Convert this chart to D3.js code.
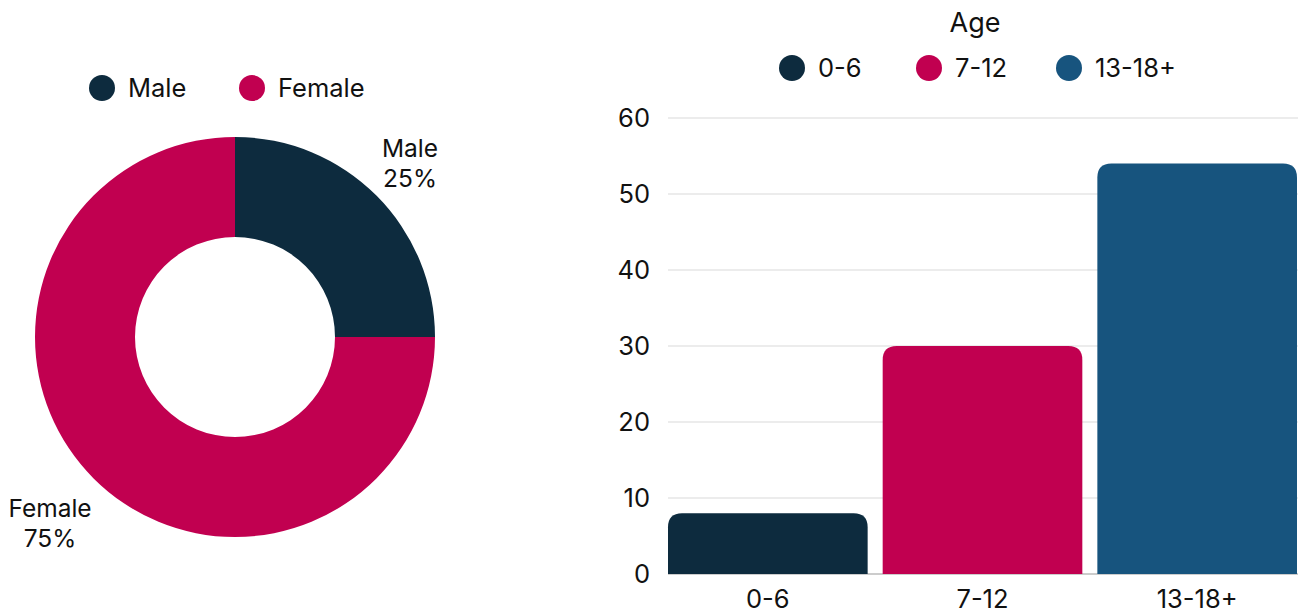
<!DOCTYPE html>
<html><head><meta charset="utf-8">
<script src="https://cdn.jsdelivr.net/npm/d3@7"></script>
<style>body{margin:0;background:#fff}svg{display:block;font-family:Inter,"Noto Sans",sans-serif}</style>
</head><body>
<svg id="c" width="1298" height="613"></svg>
<script>
const genderLabels = ["Male", "Female"];
const genderValues = [25, 75];
const genderColors = ["#0d2b3e", "#c10050"];
const ageCategories = ["0-6", "7-12", "13-18+"];
const ageValues = [8, 30, 54];
const ageColors = ["#0d2b3e", "#c10050", "#17547e"];
const yTicks = [0, 10, 20, 30, 40, 50, 60];

const svg = d3.select("#c");
const FS = 25.5;

// Donut
const cx = 235, cy = 337;
const pie = d3.pie().sort(null).value(d => d)(genderValues);
const arc = d3.arc().innerRadius(100).outerRadius(200);
const g = svg.append("g").attr("transform", `translate(${cx},${cy})`);
g.selectAll("path").data(pie).join("path").attr("d", arc).attr("fill", (d, i) => genderColors[i]);

const labelPos = [[410, 148], [50, 508]];
pie.forEach((d, i) => {
  const t = svg.append("text").attr("text-anchor", "middle").attr("font-size", 24.5).attr("fill", "#111");
  t.append("tspan").attr("x", labelPos[i][0]).attr("y", labelPos[i][1] + 9).text(genderLabels[i]);
  t.append("tspan").attr("x", labelPos[i][0]).attr("y", labelPos[i][1] + 39).text(genderValues[i] + "%");
});

// Donut legend
const lg = [[102, 88], [252, 88]];
genderLabels.forEach((l, i) => {
  svg.append("circle").attr("cx", lg[i][0]).attr("cy", lg[i][1]).attr("r", 13).attr("fill", genderColors[i]);
  svg.append("text").attr("x", lg[i][0] + 26).attr("y", lg[i][1] + 9).attr("font-size", FS).attr("fill", "#111").text(l);
});

// Bar chart
const x = d3.scaleBand().domain(ageCategories).range([668, 1297]).paddingInner(0.07).paddingOuter(0);
const y = d3.scaleLinear().domain([0, 60]).range([574, 118]);

svg.append("g").selectAll("line").data(yTicks).join("line")
  .attr("x1", 668).attr("x2", 1298).attr("y1", d => y(d)).attr("y2", d => y(d))
  .attr("stroke", d => d === 0 ? "#999" : "#d9d9d9").attr("stroke-width", 1);

svg.append("g").selectAll("text").data(yTicks).join("text")
  .attr("x", 650).attr("y", d => y(d) + 9).attr("text-anchor", "end")
  .attr("font-size", FS).attr("fill", "#111").text(d => d);

const r = 14;
function topRounded(x0, y0, w, h) {
  const rr = Math.min(r, h, w / 2);
  return `M${x0},${y0 + h}V${y0 + rr}Q${x0},${y0} ${x0 + rr},${y0}H${x0 + w - rr}Q${x0 + w},${y0} ${x0 + w},${y0 + rr}V${y0 + h}Z`;
}
svg.append("g").selectAll("path").data(ageValues).join("path")
  .attr("d", (d, i) => topRounded(x(ageCategories[i]), y(d), x.bandwidth(), y(0) - y(d)))
  .attr("fill", (d, i) => ageColors[i]);

svg.append("g").selectAll("text").data(ageCategories).join("text")
  .attr("x", d => x(d) + x.bandwidth() / 2).attr("y", 608).attr("text-anchor", "middle")
  .attr("font-size", FS).attr("fill", "#111").text(d => d);

// Title + legend
svg.append("text").attr("x", 975).attr("y", 32).attr("text-anchor", "middle").attr("font-size", 27).attr("fill", "#111").text("Age");
const bl = [792, 929, 1069];
ageCategories.forEach((c, i) => {
  svg.append("circle").attr("cx", bl[i]).attr("cy", 68).attr("r", 13).attr("fill", ageColors[i]);
  svg.append("text").attr("x", bl[i] + 26).attr("y", 77).attr("font-size", FS).attr("fill", "#111").text(c);
});
</script>
</body></html>
